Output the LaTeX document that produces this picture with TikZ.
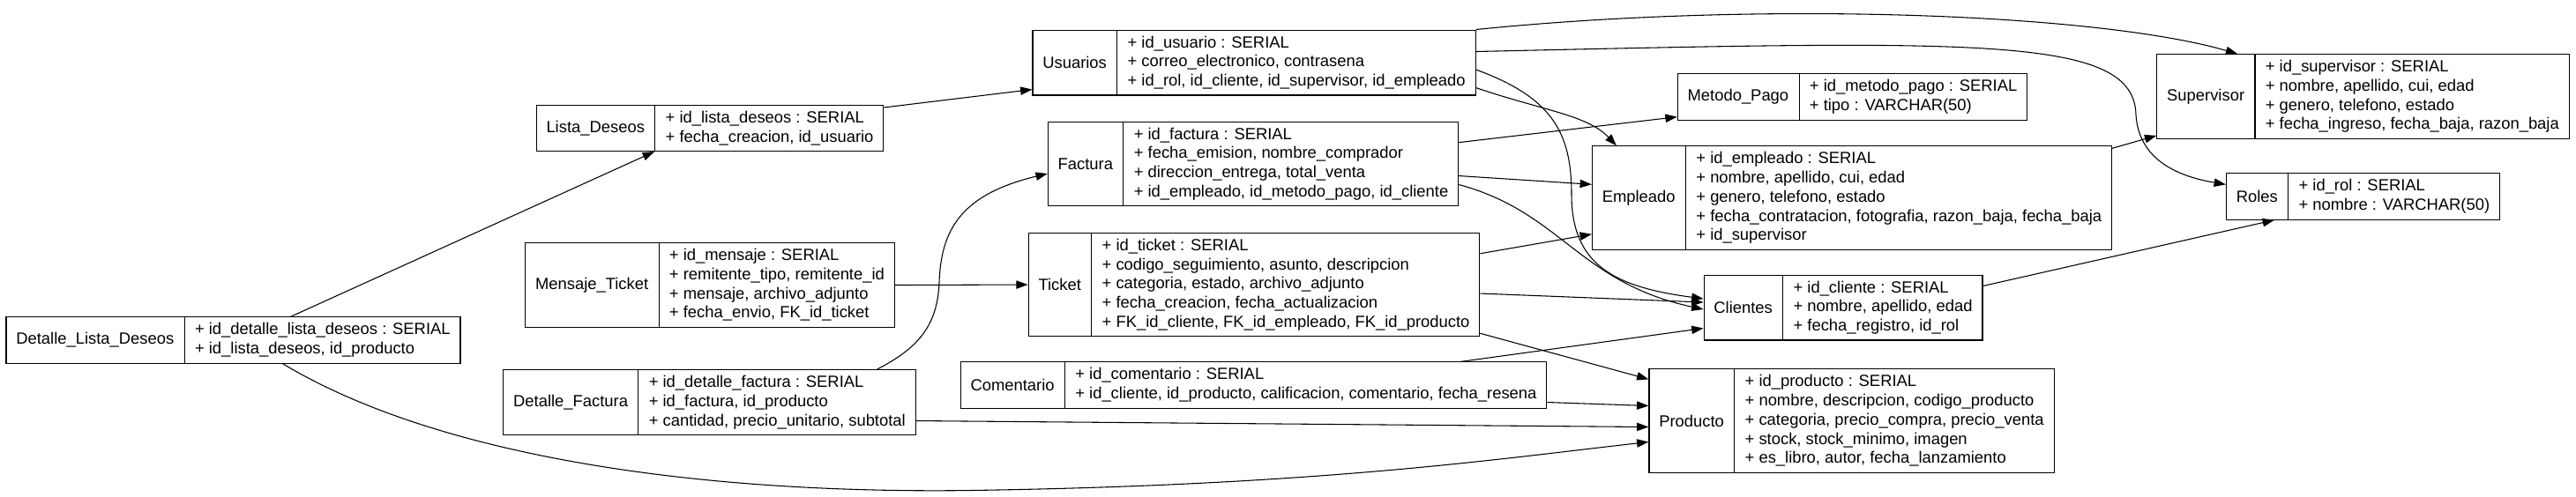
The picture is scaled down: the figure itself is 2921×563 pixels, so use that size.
\documentclass[tikz,border=0pt]{standalone}
\usepackage{fontspec}
\setmainfont{Liberation Sans}
\usetikzlibrary{arrows.meta, positioning, shapes.multipart, calc}

\begin{document}
\begin{tikzpicture}[
    x=0.75pt, y=-0.75pt,
    tbl/.style={rectangle split, rectangle split horizontal, rectangle split parts=2,
        rectangle split part align=center, draw, line width=0.8pt,
        inner xsep=8.5pt, inner ysep=5pt, align=left,
        font=\fontsize{13.8pt}{16.3pt}\selectfont},
    fk/.style={-{Triangle[length=10pt, width=7pt]}, line width=0.8pt}
]
\fill[white] (0,0) rectangle (2921,563);

% First rank
\node[tbl] (dld) at (264.5,385.5) {Detalle\_Lista\_Deseos \nodepart{two} + id\_detalle\_lista\_deseos : SERIAL\\+ id\_lista\_deseos, id\_producto};

% Second rank
\node[tbl] (ld) at (805,145) {Lista\_Deseos \nodepart{two} + id\_lista\_deseos : SERIAL\\+ fecha\_creacion, id\_usuario};
\node[tbl] (mt) at (805,323) {Mensaje\_Ticket \nodepart{two} + id\_mensaje : SERIAL\\+ remitente\_tipo, remitente\_id\\+ mensaje, archivo\_adjunto\\+ fecha\_envio, FK\_id\_ticket};
\node[tbl] (df) at (804.5,456) {Detalle\_Factura \nodepart{two} + id\_detalle\_factura : SERIAL\\+ id\_factura, id\_producto\\+ cantidad, precio\_unitario, subtotal};

% Third rank
\node[tbl] (usr) at (1422,70.5) {Usuarios \nodepart{two} + id\_usuario : SERIAL\\+ correo\_electronico, contrasena\\+ id\_rol, id\_cliente, id\_supervisor, id\_empleado};
\node[tbl] (fac) at (1421,185.5) {Factura \nodepart{two} + id\_factura : SERIAL\\+ fecha\_emision, nombre\_comprador\\+ direccion\_entrega, total\_venta\\+ id\_empleado, id\_metodo\_pago, id\_cliente};
\node[tbl] (tk) at (1422,322.5) {Ticket \nodepart{two} + id\_ticket : SERIAL\\+ codigo\_seguimiento, asunto, descripcion\\+ categoria, estado, archivo\_adjunto\\+ fecha\_creacion, fecha\_actualizacion\\+ FK\_id\_cliente, FK\_id\_empleado, FK\_id\_producto};
\node[tbl] (com) at (1421.5,436.5) {Comentario \nodepart{two} + id\_comentario : SERIAL\\+ id\_cliente, id\_producto, calificacion, comentario, fecha\_resena};

% Fourth rank
\node[tbl] (mp) at (2100.5,109.5) {Metodo\_Pago \nodepart{two} + id\_metodo\_pago : SERIAL\\+ tipo : VARCHAR(50)};
\node[tbl] (emp) at (2100,224) {Empleado \nodepart{two} + id\_empleado : SERIAL\\+ nombre, apellido, cui, edad\\+ genero, telefono, estado\\+ fecha\_contratacion, fotografia, razon\_baja, fecha\_baja\\+ id\_supervisor};
\node[tbl] (cli) at (2090,348.5) {Clientes \nodepart{two} + id\_cliente : SERIAL\\+ nombre, apellido, edad\\+ fecha\_registro, id\_rol};
\node[tbl] (prd) at (2099.5,477) {Producto \nodepart{two} + id\_producto : SERIAL\\+ nombre, descripcion, codigo\_producto\\+ categoria, precio\_compra, precio\_venta\\+ stock, stock\_minimo, imagen\\+ es\_libro, autor, fecha\_lanzamiento};

% Fifth rank
\node[tbl] (sup) at (2679.5,109) {Supervisor \nodepart{two} + id\_supervisor : SERIAL\\+ nombre, apellido, cui, edad\\+ genero, telefono, estado\\+ fecha\_ingreso, fecha\_baja, razon\_baja};
\node[tbl] (rol) at (2679.5,222.5) {Roles \nodepart{two} + id\_rol : SERIAL\\+ nombre : VARCHAR(50)};

% Foreign keys
\draw[fk] ($(dld.north)+(65,0)$) -- ($(ld.south)+(-63,0)$);
\draw[fk] ($(dld.south)+(56,0)$) .. controls (500,520) and (800,560) .. (1100,556)
    .. controls (1500,550) and (1700,520) .. ($(prd.west)+(0,24)$);
\draw[fk] ($(df.north east)+(-44,0)$) .. controls (1040,395) and (1063,370) .. (1065,320)
    .. controls (1067,260) and (1090,220) .. ($(fac.west)+(0,11)$);
\draw[fk] (mt.east) -- (tk.west);
\draw[fk] ($(ld.north east)+(0,3)$) -- ($(usr.south west)+(0,-7)$);
\draw[fk] (usr.north east) .. controls (2000,0) and (2380,15) .. ($(sup.north west)+(92,0)$);
\draw[fk] ($(usr.north east)+(0,25)$) .. controls (2250,45) and (2420,40) .. (2422,130)
    .. controls (2425,175) and (2460,198) .. ($(rol.north west)+(0,13)$);
\draw[fk] ($(usr.south east)+(0,-9)$) .. controls (1750,125) and (1800,130) .. ($(emp.north west)+(28,0)$);
\draw[fk] ($(usr.east)+(0,8)$) .. controls (1760,110) and (1782,150) .. (1782,220)
    .. controls (1782,300) and (1830,325) .. ($(cli.west)+(0,-10)$);
\draw[fk] ($(fac.east)+(0,23.5)$) .. controls (1770,240) and (1790,320) .. ($(cli.west)+(0,2)$);
\draw[fk] ($(fac.north east)+(0,24)$) -- ($(mp.south west)+(0,-4)$);
\draw[fk] ($(fac.east)+(0,13.5)$) -- ($(emp.north west)+(0,44)$);
\draw[fk] ($(tk.north east)+(0,24)$) -- ($(emp.south west)+(0,-18)$);
\draw[fk] ($(tk.east)+(0,10)$) -- ($(cli.west)+(0,-6)$);
\draw[fk] ($(tk.south east)+(0,-4)$) -- ($(prd.north west)+(0,12)$);
\draw[fk] ($(com.north east)+(-98,0)$) -- ($(cli.west)+(0,23.5)$);
\draw[fk] ($(com.east)+(0,19.5)$) -- ($(prd.west)+(0,-17)$);
\draw[fk] ($(df.east)+(0,21)$) -- ($(prd.west)+(0,7)$);
\draw[fk] ($(emp.north east)+(0,3)$) -- ($(sup.south west)+(0,-4)$);
\draw[fk] ($(cli.north east)+(0,13)$) -- ($(rol.south west)+(55,0)$);
\end{tikzpicture}
\end{document}
